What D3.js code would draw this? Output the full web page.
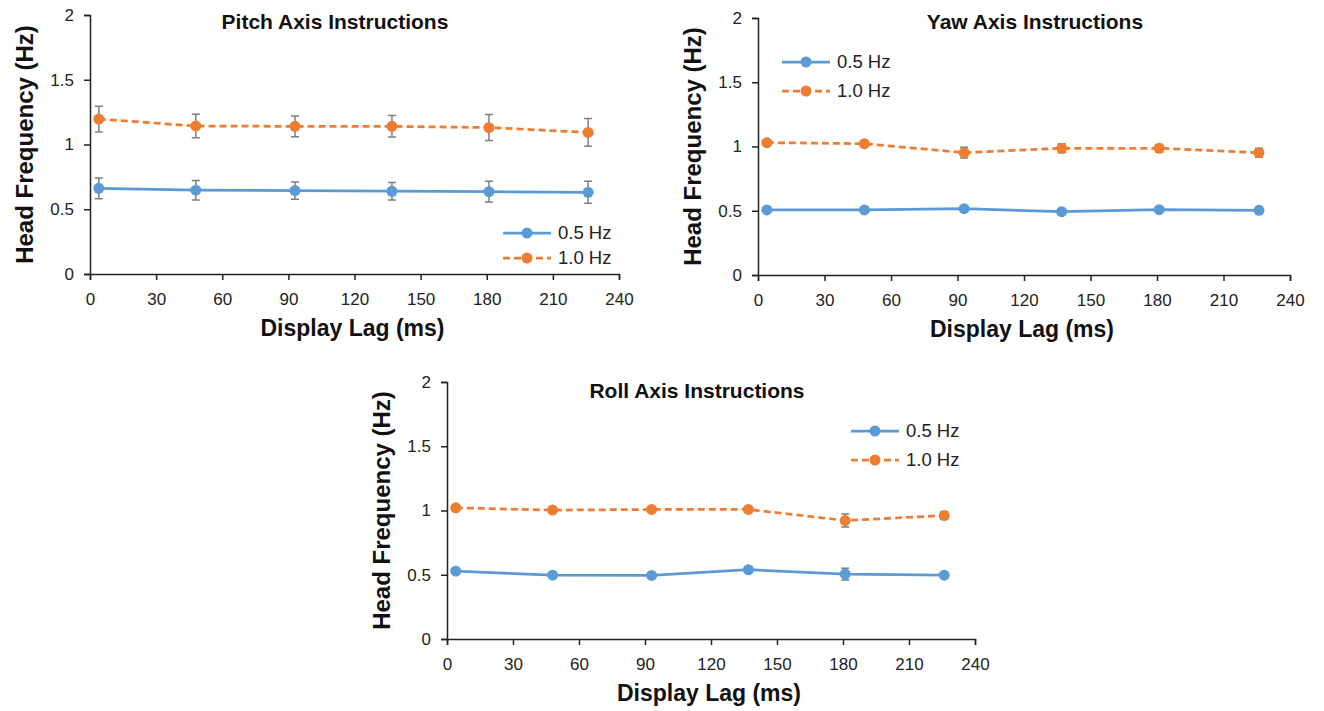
<!DOCTYPE html>
<html>
<head>
<meta charset="utf-8">
<script src="https://cdn.jsdelivr.net/npm/d3@7"></script>
<style>
  body { margin: 0; background: #fff; }
  svg { display: block; font-family: "Liberation Sans", Arial, sans-serif; }
  .tick text { font-size: 17px; fill: #222; }
  .domain, .tick line { stroke: #222; stroke-width: 1.5; }
</style>
</head>
<body>
<svg id="chart" width="1324" height="711"></svg>
<script>
// display lag (ms) for each condition
const lags = [4, 48, 93, 137, 181, 226];
const seriesNames = ["0.5 Hz", "1.0 Hz"];
const xTicks = [0, 30, 60, 90, 120, 150, 180, 210, 240];
const yTicks = [0, 0.5, 1, 1.5, 2];

// pitch
const pitchSlow = [0.662, 0.647, 0.644, 0.639, 0.636, 0.631];
const pitchSlowErr = [0.08, 0.075, 0.067, 0.067, 0.08, 0.085];
const pitchFast = [1.196, 1.143, 1.14, 1.14, 1.131, 1.093];
const pitchFastErr = [0.1, 0.09, 0.08, 0.083, 0.1, 0.107];

// yaw
const yawSlow = [0.506, 0.506, 0.516, 0.493, 0.508, 0.503];
const yawSlowErr = [0.015, 0.015, 0.015, 0.015, 0.015, 0.015];
const yawFast = [1.03, 1.022, 0.952, 0.986, 0.986, 0.952];
const yawFastErr = [0.02, 0.02, 0.042, 0.035, 0.03, 0.035];

// roll
const rollSlow = [0.528, 0.497, 0.495, 0.539, 0.505, 0.497];
const rollSlowErr = [0.015, 0.015, 0.015, 0.015, 0.045, 0.015];
const rollFast = [1.021, 1.003, 1.008, 1.008, 0.922, 0.961];
const rollFastErr = [0.02, 0.015, 0.015, 0.015, 0.05, 0.03];

const colors = ["#5b9bd5", "#ed7d31"];
const dashes = [null, "7,4"];

const panels = [
  { title: "Pitch Axis Instructions", slow: pitchSlow, slowErr: pitchSlowErr, fast: pitchFast, fastErr: pitchFastErr,
    left: 90, right: 619, top: 15, bottom: 274, titleX: 335, titleY: 29, legend: [503, 233], legendGap: 25 },
  { title: "Yaw Axis Instructions", slow: yawSlow, slowErr: yawSlowErr, fast: yawFast, fastErr: yawFastErr,
    left: 758, right: 1290, top: 18, bottom: 275, titleX: 1035, titleY: 29, legend: [782, 62], legendGap: 29 },
  { title: "Roll Axis Instructions", slow: rollSlow, slowErr: rollSlowErr, fast: rollFast, fastErr: rollFastErr,
    left: 447, right: 975, top: 382, bottom: 639, titleX: 697, titleY: 398, legend: [851, 431], legendGap: 29 },
];

const svg = d3.select("#chart");

panels.forEach((p) => drawPanel(p));

function drawPanel(p) {
  const x = d3.scaleLinear().domain([0, 240]).range([p.left, p.right]);
  const y = d3.scaleLinear().domain([0, 2]).range([p.bottom, p.top]);
  const g = svg.append("g");

  g.append("g")
    .attr("transform", `translate(0,${p.bottom})`)
    .call(d3.axisBottom(x).tickValues(xTicks).tickSize(6).tickSizeOuter(6).tickPadding(10))
    .call((a) => a.selectAll(".tick text").attr("dy", "0.9em"));

  g.append("g")
    .attr("transform", `translate(${p.left},0)`)
    .call(d3.axisLeft(y).tickValues(yTicks).tickFormat(d3.format("")).tickSize(6).tickSizeOuter(6).tickPadding(10));

  g.append("text")
    .attr("x", p.titleX)
    .attr("y", p.titleY)
    .attr("text-anchor", "middle")
    .attr("font-size", 21)
    .attr("font-weight", "bold")
    .attr("fill", "#111")
    .text(p.title);

  g.append("text")
    .attr("x", (p.left + p.right) / 2 - 2)
    .attr("y", p.bottom + 62)
    .attr("text-anchor", "middle")
    .attr("font-size", 23)
    .attr("font-weight", "bold")
    .attr("fill", "#111")
    .text("Display Lag (ms)");

  g.append("text")
    .attr("transform", `translate(${p.left - 57},${(p.top + p.bottom) / 2}) rotate(-90)`)
    .attr("text-anchor", "middle")
    .attr("font-size", 24)
    .attr("font-weight", "bold")
    .attr("fill", "#111")
    .text("Head Frequency (Hz)");

  const series = [
    { vals: p.slow, errs: p.slowErr },
    { vals: p.fast, errs: p.fastErr },
  ];

  series.forEach((s, k) => {
    const pts = lags.map((lag, i) => ({ lag, v: s.vals[i], e: s.errs[i] }));
    const line = d3.line().x((d) => x(d.lag)).y((d) => y(d.v));

    g.append("path")
      .datum(pts)
      .attr("fill", "none")
      .attr("stroke", colors[k])
      .attr("stroke-width", 2.75)
      .attr("stroke-dasharray", dashes[k])
      .attr("d", line);

    const eb = g.append("g").attr("stroke", "#7f7f7f").attr("stroke-width", 1.5);
    eb.selectAll("line.v")
      .data(pts)
      .join("line")
      .attr("x1", (d) => x(d.lag))
      .attr("x2", (d) => x(d.lag))
      .attr("y1", (d) => y(d.v - d.e))
      .attr("y2", (d) => y(d.v + d.e));
    eb.selectAll("path.cap")
      .data(pts)
      .join("path")
      .attr("d", (d) =>
        `M${x(d.lag) - 4},${y(d.v + d.e)}H${x(d.lag) + 4}M${x(d.lag) - 4},${y(d.v - d.e)}H${x(d.lag) + 4}`);

    g.append("g")
      .selectAll("circle")
      .data(pts)
      .join("circle")
      .attr("cx", (d) => x(d.lag))
      .attr("cy", (d) => y(d.v))
      .attr("r", 5.5)
      .attr("fill", colors[k]);
  });

  // legend
  const lg = g.append("g").attr("transform", `translate(${p.legend[0]},${p.legend[1]})`);
  seriesNames.forEach((name, k) => {
    const row = lg.append("g").attr("transform", `translate(0,${k * p.legendGap})`);
    row.append("line")
      .attr("x1", 0).attr("x2", 48)
      .attr("stroke", colors[k])
      .attr("stroke-width", 2.75)
      .attr("stroke-dasharray", dashes[k]);
    row.append("circle").attr("cx", 24).attr("r", 5.5).attr("fill", colors[k]);
    row.append("text")
      .attr("x", 55)
      .attr("dy", "0.35em")
      .attr("font-size", 18.5)
      .attr("fill", "#222")
      .text(name);
  });
}
</script>
</body>
</html>
